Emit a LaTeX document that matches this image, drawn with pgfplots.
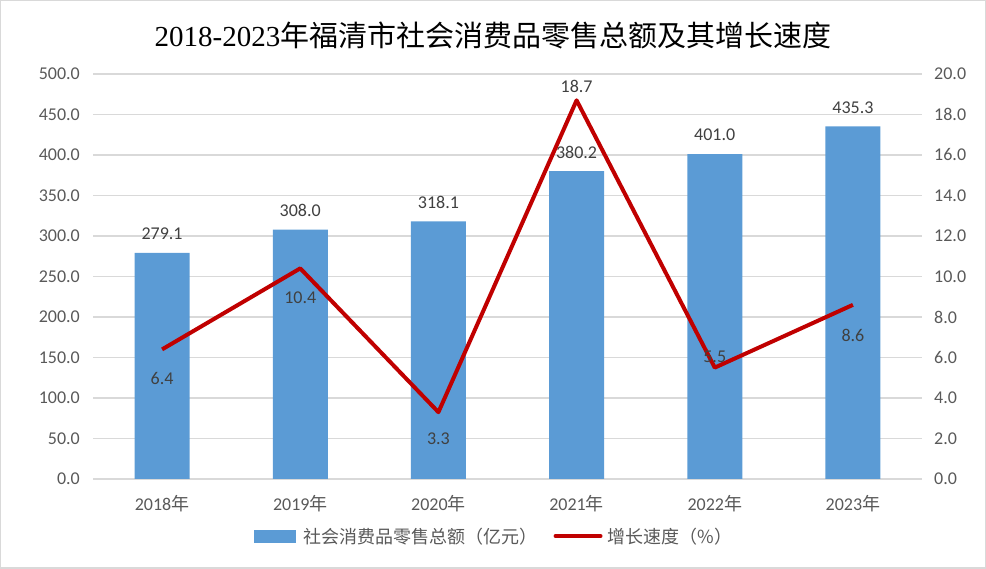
\documentclass[border=0pt]{standalone}
\usepackage{pgfplots}
\pgfplotsset{compat=1.18}
\usepackage{fontspec}
\setmainfont{Carlito}
\newfontfamily\cjk{Noto Sans CJK SC}
\newfontfamily\titlelat{Liberation Serif}
\definecolor{barblue}{HTML}{5B9BD5}
\definecolor{linered}{HTML}{C00000}
\definecolor{gridgray}{HTML}{D9D9D9}
\definecolor{labgray}{HTML}{595959}
\definecolor{datgray}{HTML}{404040}
\pgfplotstableread{
x y
0 279.1
1 308.0
2 318.1
3 380.2
4 401.0
5 435.3
}\salestable
\pgfplotstableread{
x y dy
0 6.4 -29
1 10.4 -29
2 3.3 -27
3 18.7 14
4 5.5 11
5 8.6 -31
}\growthtable
\begin{document}
\begin{tikzpicture}[x=1bp,y=1bp]
\path[use as bounding box] (0,0) rectangle (986,569);
\draw[gridgray, line width=1.5bp] (0.75,0.75) rectangle (985.25,568.25);
\node[font=\fontsize{29bp}{34bp}\selectfont, text=black] at (493,534) {\titlelat 2018-2023\cjk 年福清市社会消费品零售总额及其增长速度};
\pgfplotsset{common/.style={
  scale only axis, width=829bp, height=405bp,
  at={(93bp,90bp)}, anchor=south west,
  xmin=-0.5, xmax=5.5,
  axis line style={draw=none}, major tick length=0pt,
  tick style={draw=none},
  tick label style={font=\fontsize{18bp}{20bp}\selectfont, text=labgray, inner sep=0pt},
  /pgf/number format/assume math mode=true,
  yticklabel={\pgfmathprintnumber[fixed,fixed zerofill,precision=1,assume math mode=true]{\tick}},
}}
\begin{axis}[common,
  ymin=0, ymax=500, ytick={0,50,...,500},
  ymajorgrids, grid style={gridgray, line width=1.2bp},
  yticklabel style={anchor=east, xshift=-13bp},
  xtick={0,...,5},
  xticklabels={2018{\cjk 年},2019{\cjk 年},2020{\cjk 年},2021{\cjk 年},2022{\cjk 年},2023{\cjk 年}},
  xticklabel style={anchor=center, yshift=-25bp},
]
\addplot[ybar, bar width=55bp, fill=barblue, draw=none,
  nodes near coords={\pgfmathprintnumber[fixed,fixed zerofill,precision=1,assume math mode=true]{\pgfplotspointmeta}},
  nodes near coords style={anchor=center, yshift=19bp, font=\fontsize{18bp}{20bp}\selectfont, text=datgray, inner sep=0pt}]
  table[x=x,y=y] {\salestable};
\end{axis}
\begin{axis}[common,
  ymin=0, ymax=20, ytick={0,2,...,20},
  axis y line*=right, xtick=\empty,
  yticklabel style={anchor=west, xshift=12bp},
  legend style={at={(0.484,-0.141)}, anchor=center, draw=none, fill=none,
    legend columns=2, font=\cjk\fontsize{18bp}{20bp}\selectfont, text=labgray,
    /tikz/every even column/.append style={column sep=14bp}},
  legend cell align=left,
]
\addlegendimage{legend image code/.code={\fill[barblue] (0bp,-6bp) rectangle (41bp,6bp); \path (47bp,0bp);}}
\addlegendentry{社会消费品零售总额（亿元）}
\addlegendimage{legend image code/.code={\draw[linered, line width=4bp, line cap=round] (0bp,0bp) -- (45bp,0bp); \path (50bp,0bp);}}
\addlegendentry{增长速度（\%）}
\addplot[linered, line width=4bp, line join=round, mark=none, forget plot,
  visualization depends on={\thisrow{dy}\as\dy},
  nodes near coords={\pgfmathprintnumber[fixed,fixed zerofill,precision=1,assume math mode=true]{\pgfplotspointmeta}},
  nodes near coords style={anchor=center, yshift=\dy, font=\fontsize{18bp}{20bp}\selectfont, text=datgray, inner sep=0pt}]
  table[x=x,y=y] {\growthtable};
\end{axis}
\end{tikzpicture}
\end{document}
